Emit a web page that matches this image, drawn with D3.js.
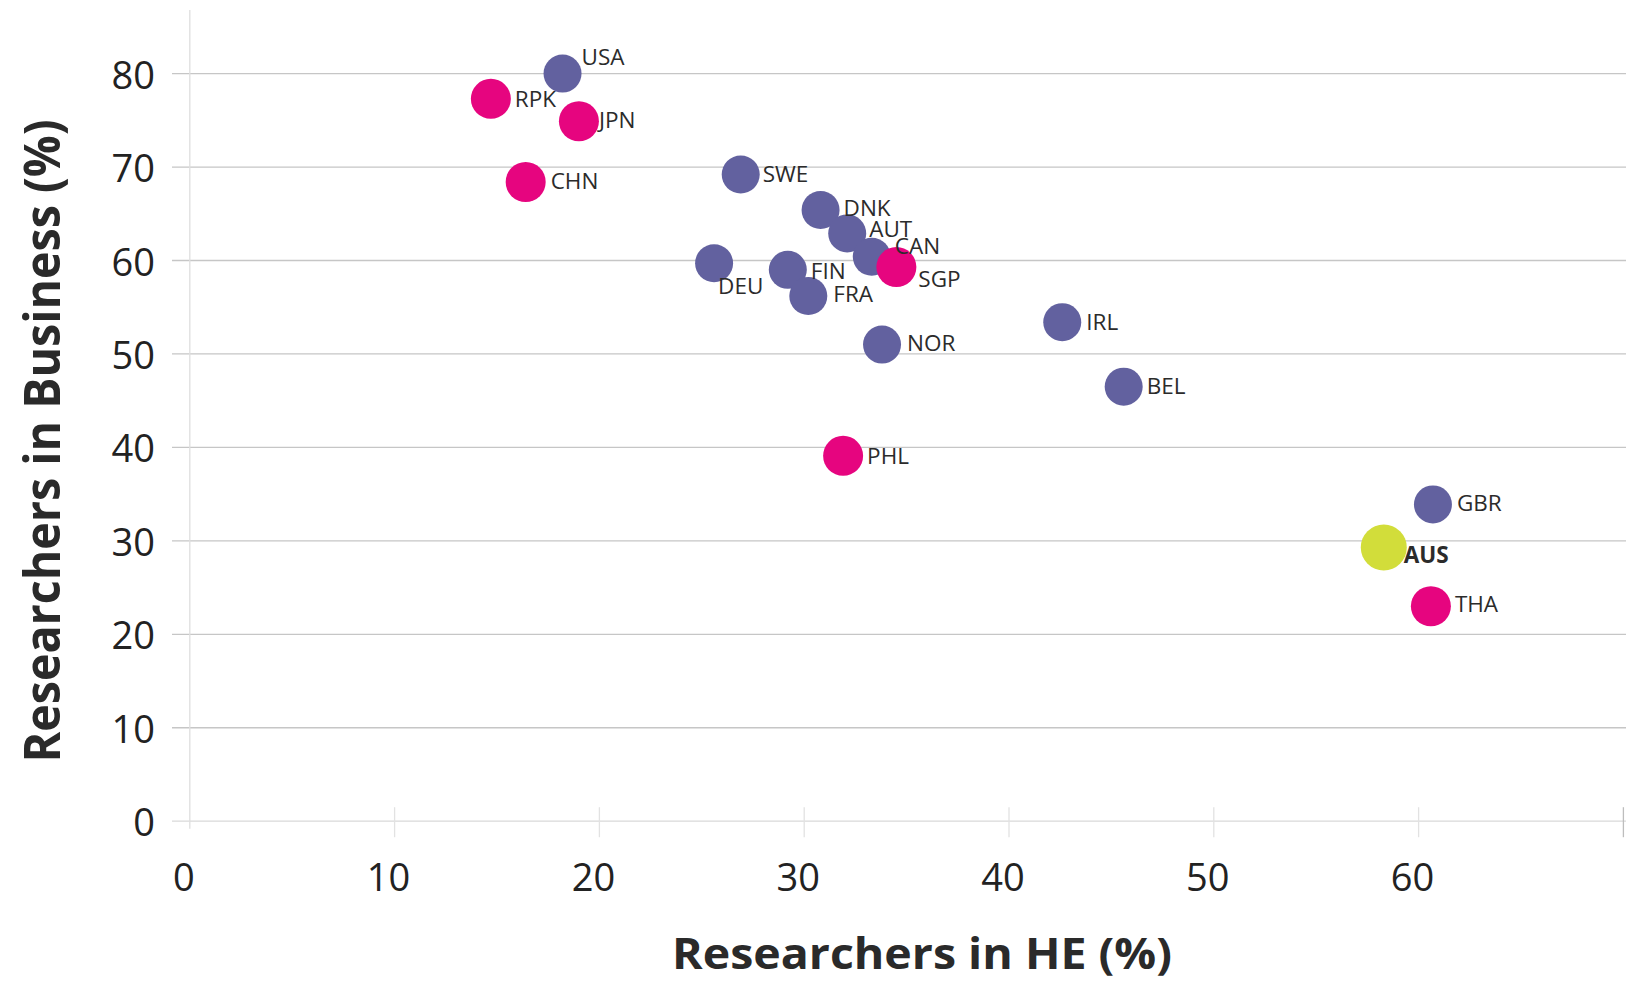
<!DOCTYPE html>
<html>
<head>
<meta charset="utf-8">
<script src="https://cdn.jsdelivr.net/npm/d3@7"></script>
<style>
  html, body { margin: 0; padding: 0; background: #ffffff; }
  svg { display: block; }
</style>
</head>
<body>
<svg id="chart" width="1626" height="985"></svg>
<script>
// ---- Data ----
const countries = ["USA","RPK","JPN","CHN","SWE","DNK","AUT","CAN","SGP","DEU","FIN","FRA","NOR","IRL","BEL","PHL","GBR","AUS","THA"];
const heShare = [18.2,14.7,19.0,16.4,26.9,30.8,32.1,33.3,34.5,25.6,29.2,30.2,33.8,42.6,45.6,31.9,60.7,58.3,60.6];
const businessShare = [80.0,77.3,74.9,68.4,69.2,65.4,62.9,60.4,59.3,59.7,59.0,56.2,51.0,53.4,46.5,39.1,33.9,29.3,23.0];
const groups = ["OECD","Asia","Asia","Asia","OECD","OECD","OECD","OECD","Asia","OECD","OECD","OECD","OECD","OECD","OECD","Asia","OECD","Australia","Asia"];
const xTickValues = [0,10,20,30,40,50,60,70];
const xTickLabels = ["0","10","20","30","40","50","60",""];
const yTickValues = [0,10,20,30,40,50,60,70,80];
const yTickLabels = ["0","10","20","30","40","50","60","70","80"];
const xTitle = "Researchers in HE (%)";
const yTitle = "Researchers in Business (%)";

// ---- Layout / style ----
const colors = { OECD: "#62619f", Asia: "#e6057f", Australia: "#d2dd3a" };
const radius = { OECD: 19, Asia: 20, Australia: 23 };
const labelOffset = {
  USA:[19,-17], RPK:[24,0], JPN:[20,-2], CHN:[25,-2], SWE:[22,-1], DNK:[23,-3],
  AUT:[22,-5], CAN:[23,-11], SGP:[22,11], DEU:[4,22], FIN:[23,1], FRA:[25,-3],
  NOR:[25,-2], IRL:[24,-1], BEL:[23,-1], PHL:[24,0], GBR:[24,-2], AUS:[20,7], THA:[24,-3]
};

const svg = d3.select("#chart");
const x = d3.scaleLinear().domain([0, 70]).range([189.8, 1623.4]);
const y = d3.scaleLinear().domain([0, 80]).range([821.2, 73.6]);

const data = countries.map((c, i) => ({ code: c, he: heShare[i], bus: businessShare[i], group: groups[i] }));

// horizontal gridlines (with small outer tick to the left) + y labels
const gy = svg.append("g").attr("transform", "translate(172,0)");
gy.call(d3.axisLeft(y).tickValues(yTickValues).tickSize(0).tickFormat(""));
gy.select(".domain").remove();
yTickValues.forEach(v => {
  gy.append("line").attr("x1", 0).attr("x2", 1626 - 172).attr("y1", y(v)).attr("y2", y(v))
    .attr("stroke", v === 0 ? "#d9d9d9" : "#c6c6c6").attr("stroke-width", 1.3);
});
gy.selectAll("text.ylab").data(yTickValues).enter().append("text")
  .attr("class", "ylab")
  .attr("x", 155 - 172).attr("y", d => y(d))
  .attr("text-anchor", "end").attr("dominant-baseline", "central")
  .attr("font-family", "'Open Sans', 'Noto Sans', sans-serif")
  .attr("font-size", 38).attr("fill", "#222")
  .text((d, i) => yTickLabels[i]);

// vertical axis line
svg.append("line").attr("x1", x(0)).attr("x2", x(0))
  .attr("y1", y(86.8)).attr("y2", y(-0.8))
  .attr("stroke", "#dedede").attr("stroke-width", 1.3);

// x ticks
const gx = svg.append("g").attr("transform", "translate(0," + y(0) + ")");
gx.call(d3.axisBottom(x).tickValues(xTickValues).tickSize(0).tickFormat(""));
gx.select(".domain").remove();
gx.selectAll("line.xt").data(xTickValues.slice(1)).enter().append("line")
  .attr("class", "xt")
  .attr("x1", d => x(d)).attr("x2", d => x(d)).attr("y1", -14).attr("y2", 16)
  .attr("stroke", d => d === 70 ? "#bdbdbd" : "#e2e2e2").attr("stroke-width", 1.3);
gx.selectAll("text.xlab").data(xTickValues).enter().append("text")
  .attr("class", "xlab")
  .attr("x", d => x(d) - 6).attr("y", 55)
  .attr("text-anchor", "middle").attr("dominant-baseline", "central")
  .attr("font-family", "'Open Sans', 'Noto Sans', sans-serif")
  .attr("font-size", 38).attr("fill", "#222")
  .text((d, i) => xTickLabels[i]);

// axis titles
svg.append("text")
  .attr("x", 922).attr("y", 952)
  .attr("text-anchor", "middle").attr("dominant-baseline", "central")
  .attr("font-family", "'Open Sans', 'Noto Sans', sans-serif")
  .attr("font-weight", "bold").attr("font-size", 43).attr("fill", "#2a2a2a")
  .attr("textLength", 500).attr("lengthAdjust", "spacingAndGlyphs")
  .text(xTitle);

svg.append("text")
  .attr("transform", "translate(41,441) rotate(-90)")
  .attr("text-anchor", "middle").attr("dominant-baseline", "central")
  .attr("font-family", "'Open Sans', 'Noto Sans', sans-serif")
  .attr("font-weight", "bold").attr("font-size", 50).attr("fill", "#2a2a2a")
  .attr("textLength", 643).attr("lengthAdjust", "spacingAndGlyphs")
  .text(yTitle);

// points
svg.append("g").selectAll("circle").data(data).enter().append("circle")
  .attr("cx", d => x(d.he)).attr("cy", d => y(d.bus))
  .attr("r", d => radius[d.group])
  .attr("fill", d => colors[d.group]);

// labels
svg.append("g").selectAll("text").data(data).enter().append("text")
  .attr("x", d => x(d.he) + labelOffset[d.code][0])
  .attr("y", d => y(d.bus) + labelOffset[d.code][1])
  .attr("dominant-baseline", "central")
  .attr("font-family", "'Open Sans', 'Noto Sans', sans-serif")
  .attr("font-size", 22.5)
  .attr("font-weight", d => d.group === "Australia" ? "bold" : "normal")
  .attr("fill", "#2b2b2b")
  .text(d => d.code);
</script>
</body>
</html>
